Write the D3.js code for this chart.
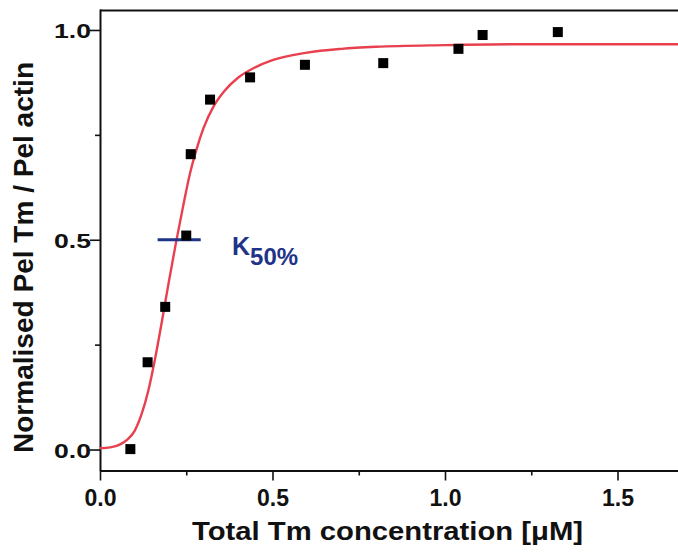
<!DOCTYPE html>
<html>
<head>
<meta charset="utf-8">
<script src="https://cdn.jsdelivr.net/npm/d3@7"></script>
<style>
  html, body { margin: 0; padding: 0; background: #fff; }
  svg { display: block; }
  svg text { font-family: "Liberation Sans", Arial, Helvetica, sans-serif !important; font-weight: bold; }
</style>
</head>
<body>
<svg id="chart" width="678" height="557"></svg>
<script>
// Measured data points (Total Tm concentration, normalised Pel Tm / Pel actin)
const concentration = [0.088, 0.138, 0.189, 0.250, 0.263, 0.319, 0.435, 0.594, 0.821, 1.039, 1.109, 1.327];
const normalised    = [0.001, 0.208, 0.340, 0.510, 0.704, 0.834, 0.887, 0.917, 0.921, 0.955, 0.988, 0.995];

// Fitted curve
const fitX = [0.0, 0.03, 0.06, 0.08, 0.10, 0.12, 0.14, 0.16, 0.18, 0.20, 0.22, 0.24, 0.26, 0.28, 0.30, 0.33, 0.36, 0.40, 0.45, 0.50, 0.60, 0.70, 0.80, 1.0, 1.2, 1.7];
const fitY = [0.003, 0.005, 0.013, 0.024, 0.044, 0.083, 0.140, 0.218, 0.308, 0.402, 0.492, 0.576, 0.655, 0.716, 0.766, 0.819, 0.854, 0.886, 0.911, 0.928, 0.946, 0.955, 0.960, 0.964, 0.966, 0.966];

const xMajorTicks = [0, 0.5, 1.0, 1.5];
const xMinorTicks = [0.25, 0.75, 1.25];
const yMajorTicks = [0, 0.5, 1.0];
const yMinorTicks = [0.25, 0.75];

const k50Value = 0.5;
const k50Range = [0.167, 0.292];

const svg = d3.select("#chart");
const mLeft = 100, mTop = 9, mBottom = 470.5;

const x = d3.scaleLinear().domain([0, 1.7]).range([mLeft, mLeft + 1.7 * 345]);
const y = d3.scaleLinear().domain([-0.05, 1.05]).range([mBottom, mTop]);

// top frame line
svg.append("line")
  .attr("x1", x(0)).attr("x2", x(1.7))
  .attr("y1", y(1.05) + 1.5).attr("y2", y(1.05) + 1.5)
  .attr("stroke", "#111").attr("stroke-width", 2);

// x axis
const xAxis = svg.append("g").attr("transform", `translate(0,${mBottom})`);
xAxis.call(d3.axisBottom(x).tickValues(xMajorTicks).tickSize(10).tickSizeOuter(0).tickFormat(d3.format(".1f")));
xAxis.append("g").call(d3.axisBottom(x).tickValues(xMinorTicks).tickSize(5).tickSizeOuter(0).tickFormat(""))
  .select(".domain").remove();
xAxis.selectAll(".domain").attr("stroke", "#111").attr("stroke-width", 2);
xAxis.selectAll(".tick line").attr("stroke", "#111").attr("stroke-width", 1.6);
xAxis.selectAll(".tick text")
  .attr("y", 0).attr("dy", 0)
  .attr("transform", "translate(0,35)")
  .attr("font-size", 23)
  .attr("fill", "#111")
  .attr("textLength", 32).attr("lengthAdjust", "spacingAndGlyphs");

// y axis
const yAxis = svg.append("g").attr("transform", `translate(${mLeft},0)`);
yAxis.call(d3.axisLeft(y).tickValues(yMajorTicks).tickSize(10).tickSizeOuter(0).tickFormat(d3.format(".1f")));
yAxis.append("g").call(d3.axisLeft(y).tickValues(yMinorTicks).tickSize(5).tickSizeOuter(0).tickFormat(""))
  .select(".domain").remove();
yAxis.selectAll(".domain").attr("stroke", "#111").attr("stroke-width", 2);
yAxis.selectAll(".tick line").attr("stroke", "#111").attr("stroke-width", 1.6);
yAxis.selectAll(".tick text")
  .attr("x", -9).attr("dy", "0.36em")
  .attr("font-size", 21)
  .attr("fill", "#111")
  .attr("textLength", 37).attr("lengthAdjust", "spacingAndGlyphs");

// fitted curve
const fit = fitX.map((v, i) => [v, fitY[i]]);
svg.append("path")
  .datum(fit)
  .attr("fill", "none")
  .attr("stroke", "#e8404e")
  .attr("stroke-width", 2.4)
  .attr("d", d3.line().x(d => x(d[0])).y(d => y(d[1])).curve(d3.curveMonotoneX));

// K50 marker line
svg.append("line")
  .attr("x1", x(k50Range[0])).attr("x2", x(k50Range[1]))
  .attr("y1", y(k50Value)).attr("y2", y(k50Value))
  .attr("stroke", "#1f3488").attr("stroke-width", 3);

// data squares
const pts = concentration.map((v, i) => [v, normalised[i]]);
svg.append("g").selectAll("rect").data(pts).join("rect")
  .attr("x", d => x(d[0]) - 5).attr("y", d => y(d[1]) - 5)
  .attr("width", 10).attr("height", 10)
  .attr("fill", "#000");

// K50% label
const k = svg.append("text")
  .attr("x", 232).attr("y", 255)
  .attr("fill", "#1f3488").attr("font-size", 25);
k.append("tspan").text("K");
k.append("tspan").attr("dy", 10).attr("font-size", 24).text("50%");

// axis titles
svg.append("text")
  .attr("x", 387.5).attr("y", 540)
  .attr("text-anchor", "middle")
  .attr("font-size", 26).attr("fill", "#111")
  .attr("textLength", 391).attr("lengthAdjust", "spacingAndGlyphs")
  .text("Total Tm concentration [μM]");

svg.append("text")
  .attr("transform", "translate(33,257.5) rotate(-90)")
  .attr("text-anchor", "middle")
  .attr("font-size", 28).attr("fill", "#111")
  .attr("textLength", 391).attr("lengthAdjust", "spacingAndGlyphs")
  .text("Normalised Pel Tm / Pel actin");
</script>
</body>
</html>
